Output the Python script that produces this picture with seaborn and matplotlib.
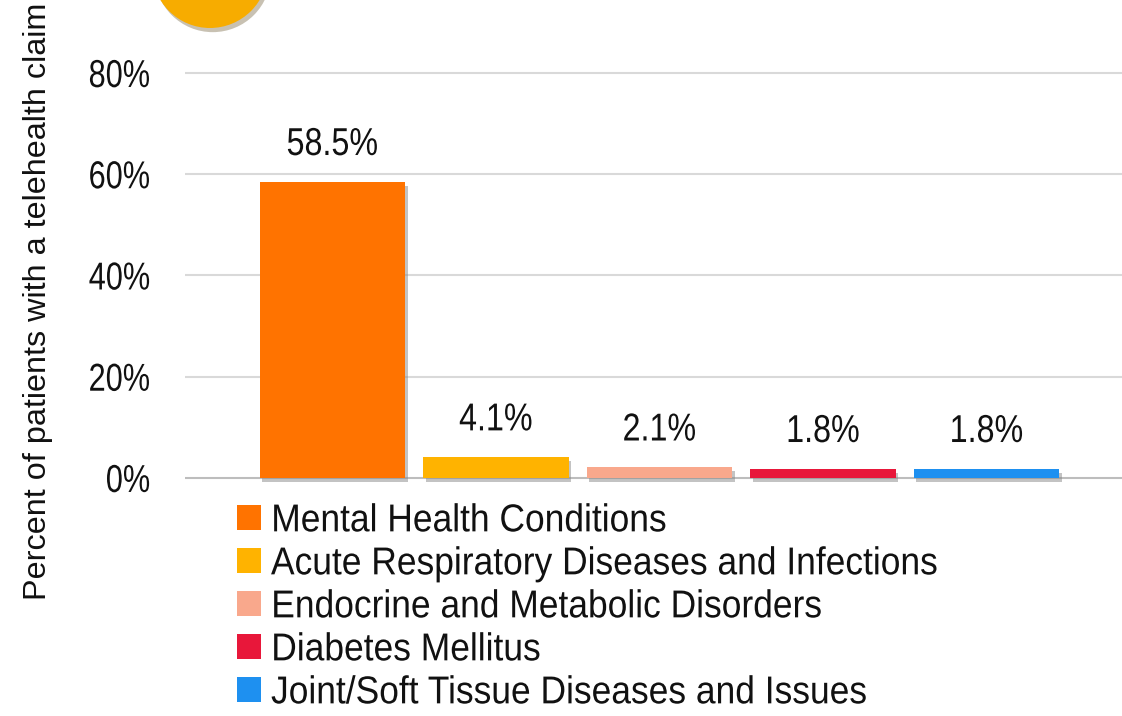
import matplotlib
matplotlib.use("Agg")
import matplotlib.pyplot as plt
import matplotlib.patheffects as pe
from matplotlib.patches import Patch, Ellipse
from matplotlib.transforms import Affine2D
import seaborn as sns
import pandas as pd

categories = ["Mental Health Conditions",
              "Acute Respiratory Diseases and Infections",
              "Endocrine and Metabolic Disorders",
              "Diabetes Mellitus",
              "Joint/Soft Tissue Diseases and Issues"]
values = [58.5, 4.1, 2.1, 1.8, 1.8]
value_labels = ["58.5%", "4.1%", "2.1%", "1.8%", "1.8%"]
colors = ["#FF7300", "#FFB300", "#F9A88C", "#E8173A", "#1E90F0"]
yticks = [0, 20, 40, 60, 80]
ytick_labels = ["0%", "20%", "40%", "60%", "80%"]
ylabel = "Percent of patients with a telehealth claim"


class Narrow(pe.AbstractPathEffect):
    """Compress text horizontally (along its baseline) around an anchor."""
    def __init__(self, sx=0.85, anchor="center"):
        super().__init__()
        self.sx = sx
        self.anchor = anchor

    def draw_path(self, renderer, gc, tpath, affine, rgbFace=None):
        ext = tpath.get_extents()
        if self.anchor == "left":
            p = ext.x0
        elif self.anchor == "right":
            p = ext.x1
        else:
            p = 0.5 * (ext.x0 + ext.x1)
        tr = Affine2D().translate(-p, 0).scale(self.sx, 1).translate(p, 0) + affine
        renderer.draw_path(gc, tpath, tr, rgbFace)


sns.set_theme(style="white")
plt.rcParams['font.family'] = ['Liberation Sans', 'DejaVu Sans']

fig = plt.figure(figsize=(11.22, 7.16), dpi=100)
ax = fig.add_axes([0.165, 0.3254, 0.835, 0.5797])

df = pd.DataFrame({"cat": categories, "val": values})
sns.barplot(data=df, x="cat", y="val", hue="cat", palette=colors,
            order=categories, hue_order=categories, width=0.89,
            dodge=False, legend=False, ax=ax, saturation=1)

for p in ax.patches:
    p.set_path_effects([pe.SimplePatchShadow(offset=(2, -3), shadow_rgbFace="#888888", alpha=0.5), pe.Normal()])
    p.set_edgecolor("none")

for i, (v, lab) in enumerate(zip(values, value_labels)):
    ax.text(i, v + 5.3, lab, ha="center", va="baseline", fontsize=28, color="#111111",
            path_effects=[Narrow(0.83, "center")])

ax.set_ylim(-1, 81)
ax.set_xlim(-0.9, 4.83)
ax.set_yticks(yticks)
ax.set_yticklabels(ytick_labels, fontsize=28, color="#111111")
for t in ax.get_yticklabels():
    t.set_path_effects([Narrow(0.79, "right")])
ax.tick_params(axis="y", length=0, pad=25)
ax.set_xticks([])
ax.set_xlabel("")
ax.set_ylabel("")
for s in ax.spines.values():
    s.set_visible(False)
ax.set_axisbelow(True)
for t in yticks:
    ax.axhline(t, color="#BDBDBD" if t == 0 else "#D9D9D9", lw=1.5, zorder=0)

fig.text(0.034, 1 - 301.5 / 716, ylabel, rotation=90, ha="center", va="center",
         fontsize=23.3, color="#111111")

# cropped title badge at the top edge
badge = Ellipse((210 / 1122, 1 + 30 / 716), width=116 / 1122, height=116 / 716,
                transform=fig.transFigure, facecolor="#F7AC00", edgecolor="none",
                path_effects=[pe.SimplePatchShadow(offset=(2, -3), alpha=0.3), pe.Normal()])
fig.patches.append(badge)

handles = [Patch(facecolor=c, edgecolor="none") for c in colors]
leg = fig.legend(handles, categories, loc="upper left", bbox_to_anchor=(0.211, 0.297),
                 frameon=False, fontsize=28, handlelength=0.62, handleheight=0.6,
                 handletextpad=0.26, labelspacing=0.18, borderaxespad=0, borderpad=0)
for t in leg.get_texts():
    t.set_color("#111111")
    t.set_path_effects([Narrow(0.91, "left")])

fig.savefig("out.png", dpi=100, facecolor="white")
